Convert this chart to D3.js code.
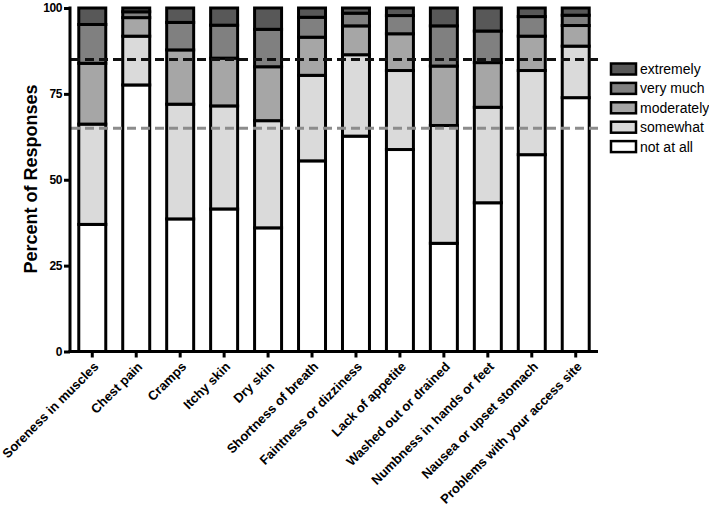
<!DOCTYPE html>
<html>
<head>
<meta charset="utf-8">
<script src="https://cdn.jsdelivr.net/npm/d3@7"></script>
<style>
body{margin:0;background:#fff}
svg{font-family:"Liberation Sans",Arial,sans-serif}
</style>
</head>
<body>
<svg id="chart"></svg>
<script>
// symptoms on the x axis
var symptoms = ["Soreness in muscles","Chest pain","Cramps","Itchy skin","Dry skin",
  "Shortness of breath","Faintness or dizziness","Lack of appetite","Washed out or drained",
  "Numbness in hands or feet","Nausea or upset stomach","Problems with your access site"]

// percent of responses per answer level
var notAtAll   = [37.0,77.6,38.6,41.5,36.0,55.5,62.7,58.8,31.5,43.3,57.3,73.9]
var somewhat   = [29.2,14.2,33.4,30.0,31.2,24.9,23.7,23.0,34.3,27.8,24.5,15.0]
var moderately = [17.7, 5.4,15.8,13.9,15.7,11.1, 8.4,10.7,17.3,13.0,10.0, 6.0]
var veryMuch   = [11.3, 1.7, 8.0, 9.6,10.9, 5.8, 3.7, 5.3,11.7, 9.2, 5.7, 3.0]
var extremely  = [ 4.8, 1.1, 4.2, 5.0, 6.2, 2.7, 1.5, 2.2, 5.2, 6.7, 2.5, 2.1]

var levels = ["not at all","somewhat","moderately","very much","extremely"]
var levelColors = ["#ffffff","#dadada","#a6a6a6","#808080","#585858"]

var yTicks = [0,25,50,75,100]
var refLines = [85,65]
var refColors = ["#111111","#8c8c8c"]

var screen = {width:709,height:507}

var svg = d3.select("#chart")
  .attr("width",screen.width)
  .attr("height",screen.height)

var xScale = d3.scaleBand()
  .domain(symptoms)
  .range([70.3,597.7])
  .paddingInner(0.386)
  .paddingOuter(0.193)

var yScale = d3.scaleLinear()
  .domain([0,100])
  .range([351.5,8])

var color = d3.scaleOrdinal().domain(levels).range(levelColors)

// build rows for the stack
var rows = symptoms.map(function(s,i){
  return {
    name:s,
    "not at all":notAtAll[i],
    "somewhat":somewhat[i],
    "moderately":moderately[i],
    "very much":veryMuch[i],
    "extremely":extremely[i]
  }
})

var stacked = d3.stack().keys(levels)(rows)

svg.append("g")
  .selectAll("g")
  .data(stacked)
  .enter()
  .append("g")
  .attr("fill",function(d){return color(d.key)})
  .selectAll("rect")
  .data(function(d){return d})
  .enter()
  .append("rect")
  .attr("x",function(d){return xScale(d.data.name)})
  .attr("width",xScale.bandwidth())
  .attr("y",function(d){return yScale(d[1])})
  .attr("height",function(d){return yScale(d[0])-yScale(d[1])})
  .attr("stroke","#000")
  .attr("stroke-width",3)

// dashed reference lines
svg.append("g")
  .selectAll("line")
  .data(refLines)
  .enter()
  .append("line")
  .attr("x1",71)
  .attr("x2",598)
  .attr("y1",function(d){return yScale(d)})
  .attr("y2",function(d){return yScale(d)})
  .attr("stroke",function(d,i){return refColors[i]})
  .attr("stroke-width",3)
  .attr("stroke-dasharray","9,5")

// y axis
var yAxis = svg.append("g")
  .attr("transform","translate(70,0)")
  .call(d3.axisLeft(yScale).tickValues(yTicks).tickSize(6).tickPadding(2))
yAxis.select(".domain").attr("stroke","#000").attr("stroke-width",3)
  .attr("d","M0,"+(yScale(100)-1.5)+"V"+(yScale(0)+1.5))
yAxis.selectAll(".tick line").attr("stroke-width",3)
yAxis.selectAll("text")
  .attr("font-size",12)
  .attr("font-weight","bold")
  .attr("fill","#000")
  .attr("letter-spacing",-0.4)

// x axis
var xAxis = svg.append("g")
  .attr("transform","translate(0,"+yScale(0)+")")
  .call(d3.axisBottom(xScale).tickSize(6))
xAxis.select(".domain").attr("stroke","#000").attr("stroke-width",3)
  .attr("d","M68.5,0H598")
xAxis.selectAll(".tick line").attr("stroke-width",3)
xAxis.selectAll("text")
  .attr("font-size",13)
  .attr("font-weight","bold")
  .attr("fill","#000")
  .attr("text-anchor","end")
  .attr("x",0)
  .attr("y",0)
  .attr("dy",0)
  .attr("transform","translate(7,16) rotate(-45)")

// y label
svg.append("text")
  .attr("transform","translate(37,179) rotate(-90)")
  .attr("text-anchor","middle")
  .attr("font-size",18)
  .attr("font-weight","bold")
  .text("Percent of Responses")

// legend, top entry is extremely
var legendItems = levels.slice().reverse()
var legend = svg.append("g")
  .selectAll("g")
  .data(legendItems)
  .enter()
  .append("g")
  .attr("transform",function(d,i){return "translate(611,"+(69+i*19.4)+")"})

legend.append("rect")
  .attr("x",0)
  .attr("y",-5.5)
  .attr("width",25)
  .attr("height",11)
  .attr("fill",function(d){return color(d)})
  .attr("stroke","#000")
  .attr("stroke-width",2.5)

legend.append("text")
  .attr("x",29)
  .attr("y",5)
  .attr("font-size",14)
  .text(function(d){return d})
</script>
</body>
</html>
